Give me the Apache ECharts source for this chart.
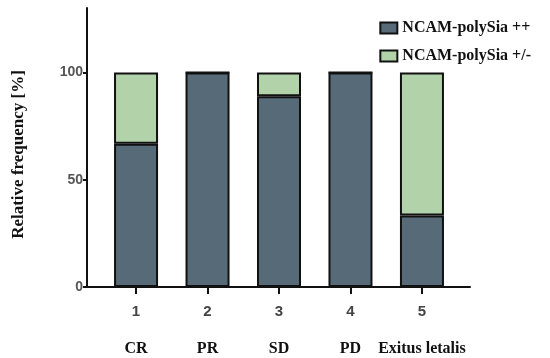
<!DOCTYPE html>
<html>
<head>
<meta charset="utf-8">
<script src="https://cdn.jsdelivr.net/npm/echarts@6/dist/echarts.min.js"></script>
<style>html,body{margin:0;padding:0;background:#fff}#c{width:550px;height:358px}</style>
</head>
<body>
<div id="c"></div>
<script>
var positions = ['1', '2', '3', '4', '5'];
var groupLabels = ['CR', 'PR', 'SD', 'PD', 'Exitus letalis'];
var positiveValues = [66.7, 100, 88.9, 100, 33.3];
var partialValues = [33.3, 0, 11.1, 0, 66.7];
var yTicks = [0, 50, 100];
var seriesNames = ['NCAM-polySia ++', 'NCAM-polySia +/-'];

var chart = echarts.init(document.getElementById('c'));
var serif = '"Liberation Serif", "DejaVu Serif", serif';
var sans = '"Liberation Sans", Arial, sans-serif';
chart.setOption({
  animation: false,
  grid: [
    { left: 87, right: 80, top: 8, bottom: 71, outerBoundsMode: 'none', containLabel: false },
    { left: 100.3, right: 92.3, top: 8, bottom: 71, outerBoundsMode: 'none', containLabel: false }
  ],
  legend: {
    orient: 'vertical', right: 14, top: 15, itemWidth: 17, itemHeight: 11, itemGap: 12,
    icon: 'rect',
    textStyle: { fontFamily: serif, fontSize: 16, color: '#111', fontWeight: 'bold' },
    data: seriesNames
  },
  xAxis: [
    { type: 'value', gridIndex: 0, min: 0, max: 1,
      splitLine: { show: false }, axisTick: { show: false }, axisLabel: { show: false },
      axisLine: { show: true, lineStyle: { color: '#111', width: 2 } } },
    { type: 'category', gridIndex: 1, data: positions,
      axisLine: { show: false },
      axisTick: { show: true, alignWithLabel: true, interval: 0, length: 7, lineStyle: { color: '#111', width: 2 } },
      axisLabel: {
        margin: 14, interval: 0, hideOverlap: false,
        formatter: function (v, i) {
          return '{n|' + v + '}\n{c|' + groupLabels[i] + '}';
        },
        rich: {
          n: { fontFamily: sans, fontSize: 15, fontWeight: 'bold', color: '#444', lineHeight: 22 },
          c: { fontFamily: serif, fontSize: 16, fontWeight: 'bold', color: '#111', lineHeight: 34, verticalAlign: 'bottom' }
        }
      } }
  ],
  yAxis: [
    { type: 'value', gridIndex: 0, min: 0, max: 130,
      name: 'Relative frequency [%]', nameLocation: 'middle', nameGap: 60,
      nameTextStyle: { fontFamily: serif, fontSize: 17, color: '#111', fontWeight: 'bold', padding: [0, 0, 0, -14] },
      splitLine: { show: false },
      axisLine: { show: true, lineStyle: { color: '#111', width: 2 } },
      axisTick: { show: true, customValues: yTicks, length: 4, lineStyle: { color: '#111', width: 2 } },
      axisLabel: { customValues: yTicks, margin: 4, fontFamily: sans, fontSize: 14, color: '#555', fontWeight: 'bold' } },
    { type: 'value', gridIndex: 1, min: 0, max: 130, show: false, splitLine: { show: false } }
  ],
  series: [
    { name: seriesNames[0], type: 'bar', stack: 's', xAxisIndex: 1, yAxisIndex: 1, barWidth: 44, data: positiveValues,
      itemStyle: { color: '#566a78', borderColor: '#111', borderWidth: 2 } },
    { name: seriesNames[1], type: 'bar', stack: 's', xAxisIndex: 1, yAxisIndex: 1, barWidth: 44, data: partialValues,
      itemStyle: { color: '#b2d3aa', borderColor: '#111', borderWidth: 2 } }
  ]
});
</script>
</body>
</html>
